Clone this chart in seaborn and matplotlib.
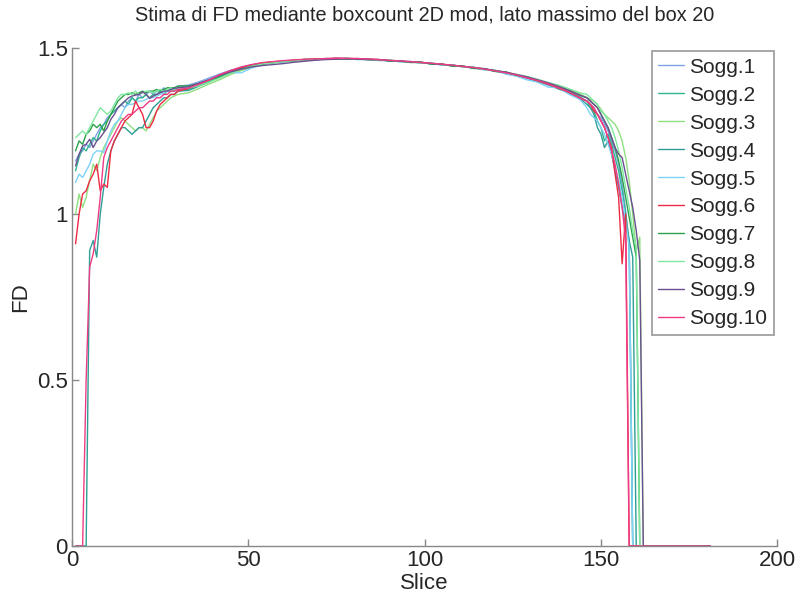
import pandas as pd
import matplotlib
matplotlib.use("Agg")
import matplotlib.pyplot as plt
import seaborn as sns

# slice positions (dense at the edges, every 3 slices in the flat middle)
slices = list(range(1, 31)) + list(range(33, 145, 3)) + list(range(146, 166)) + [181]

# FD per subject: slices 1-30, then 33..144 step 3, then 146..165, then 181
sogg1 = [1.16, 1.18, 1.19, 1.21, 1.20, 1.22, 1.24, 1.26, 1.27, 1.29, 1.30, 1.31, 1.32, 1.33, 1.32,
         1.34, 1.35, 1.34, 1.36, 1.35, 1.36, 1.37, 1.36, 1.37, 1.37, 1.38, 1.37, 1.38, 1.38, 1.385,
         1.388, 1.398, 1.410, 1.422, 1.433, 1.441, 1.450, 1.452, 1.458, 1.459, 1.463, 1.463, 1.466,
         1.466, 1.469, 1.467, 1.466, 1.467, 1.463, 1.462, 1.459, 1.459, 1.455, 1.453, 1.449, 1.448,
         1.443, 1.441, 1.435, 1.431, 1.424, 1.418, 1.408, 1.401, 1.388, 1.379, 1.365, 1.353,
         1.34, 1.33, 1.32, 1.30, 1.29, 1.27, 1.25, 1.22, 1.19, 1.15, 1.09, 1.01, 0.90, 0, 0, 0, 0, 0, 0, 0,
         0]
sogg2 = [1.13, 1.17, 1.20, 1.19, 1.21, 1.23, 1.22, 1.25, 1.27, 1.28, 1.30, 1.31, 1.32, 1.33, 1.34,
         1.33, 1.35, 1.34, 1.35, 1.35, 1.36, 1.35, 1.36, 1.36, 1.37, 1.36, 1.37, 1.37, 1.37, 1.375,
         1.376, 1.388, 1.400, 1.415, 1.428, 1.438, 1.447, 1.453, 1.456, 1.461, 1.461, 1.465, 1.465,
         1.468, 1.467, 1.469, 1.466, 1.465, 1.465, 1.461, 1.461, 1.457, 1.457, 1.452, 1.451, 1.446,
         1.445, 1.439, 1.437, 1.430, 1.427, 1.416, 1.411, 1.399, 1.391, 1.376, 1.368, 1.350,
         1.34, 1.32, 1.31, 1.28, 1.26, 1.22, 1.24, 1.21, 1.17, 1.13, 1.07, 1.00, 0.92, 0, 0, 0, 0, 0, 0, 0,
         0]
sogg3 = [1.00, 1.06, 1.02, 1.05, 1.10, 1.15, 1.13, 1.17, 1.20, 1.22, 1.24, 1.26, 1.28, 1.29, 1.28,
         1.27, 1.26, 1.25, 1.26, 1.26, 1.25, 1.27, 1.29, 1.31, 1.32, 1.33, 1.34, 1.35, 1.355, 1.36,
         1.365, 1.378, 1.392, 1.405, 1.420, 1.432, 1.442, 1.450, 1.455, 1.458, 1.462, 1.463, 1.466,
         1.466, 1.467, 1.468, 1.466, 1.466, 1.463, 1.463, 1.459, 1.458, 1.455, 1.454, 1.449, 1.448,
         1.443, 1.441, 1.436, 1.432, 1.427, 1.419, 1.412, 1.404, 1.393, 1.384, 1.374, 1.362,
         1.35, 1.345, 1.34, 1.33, 1.315, 1.30, 1.29, 1.28, 1.27, 1.25, 1.22, 1.17, 1.10, 1.00, 0.89, 0.93,
         0, 0, 0, 0,
         0]
sogg4 = [0, 0, 0, 0, 0.89, 0.92, 0.87, 1.00, 1.08, 1.15, 1.19, 1.22, 1.24, 1.26, 1.26,
         1.25, 1.24, 1.25, 1.26, 1.26, 1.28, 1.30, 1.32, 1.33, 1.34, 1.35, 1.35, 1.36, 1.36, 1.37,
         1.372, 1.385, 1.398, 1.414, 1.427, 1.437, 1.446, 1.452, 1.457, 1.459, 1.462, 1.464, 1.465,
         1.467, 1.468, 1.467, 1.467, 1.465, 1.464, 1.461, 1.460, 1.457, 1.456, 1.452, 1.450, 1.446,
         1.444, 1.439, 1.436, 1.430, 1.425, 1.417, 1.410, 1.400, 1.390, 1.377, 1.364, 1.348,
         1.33, 1.32, 1.30, 1.26, 1.24, 1.20, 1.22, 1.18, 1.13, 1.08, 1.02, 0.97, 0.92, 0.87, 0, 0, 0, 0, 0, 0,
         0]
sogg5 = [1.095, 1.12, 1.11, 1.13, 1.15, 1.18, 1.19, 1.19, 1.185, 1.22, 1.25, 1.27, 1.28, 1.30, 1.32,
         1.33, 1.33, 1.335, 1.34, 1.34, 1.345, 1.35, 1.35, 1.355, 1.36, 1.365, 1.37, 1.375, 1.375, 1.38,
         1.384, 1.395, 1.406, 1.416, 1.426, 1.425, 1.440, 1.449, 1.456, 1.458, 1.461, 1.465, 1.464,
         1.468, 1.466, 1.468, 1.465, 1.466, 1.462, 1.463, 1.458, 1.459, 1.454, 1.454, 1.448, 1.449,
         1.442, 1.442, 1.433, 1.432, 1.421, 1.415, 1.404, 1.397, 1.382, 1.380, 1.360, 1.345,
         1.32, 1.30, 1.29, 1.28, 1.26, 1.24, 1.21, 1.18, 1.14, 1.10, 1.05, 0.98, 0.90, 0, 0, 0, 0, 0, 0, 0,
         0]
sogg6 = [0.91, 1.00, 1.06, 1.07, 1.10, 1.12, 1.15, 1.07, 1.09, 1.08, 1.19, 1.22, 1.24, 1.26, 1.28,
         1.29, 1.30, 1.34, 1.32, 1.30, 1.26, 1.26, 1.28, 1.31, 1.33, 1.34, 1.35, 1.36, 1.36, 1.37,
         1.378, 1.392, 1.404, 1.419, 1.431, 1.441, 1.449, 1.455, 1.458, 1.461, 1.463, 1.465, 1.467,
         1.468, 1.469, 1.468, 1.468, 1.466, 1.465, 1.462, 1.461, 1.458, 1.457, 1.453, 1.451, 1.447,
         1.445, 1.440, 1.437, 1.431, 1.427, 1.418, 1.411, 1.401, 1.391, 1.379, 1.366, 1.350,
         1.34, 1.33, 1.31, 1.30, 1.28, 1.26, 1.23, 1.20, 1.12, 1.05, 0.85, 1.00, 0, 0, 0, 0, 0, 0, 0, 0,
         0]
sogg7 = [1.19, 1.22, 1.21, 1.24, 1.25, 1.27, 1.26, 1.27, 1.25, 1.28, 1.30, 1.32, 1.34, 1.35, 1.36,
         1.36, 1.365, 1.36, 1.365, 1.37, 1.365, 1.37, 1.37, 1.375, 1.37, 1.375, 1.38, 1.38, 1.38, 1.385,
         1.386, 1.393, 1.404, 1.414, 1.427, 1.436, 1.447, 1.451, 1.456, 1.460, 1.461, 1.466, 1.465,
         1.467, 1.468, 1.466, 1.468, 1.465, 1.465, 1.461, 1.461, 1.456, 1.457, 1.451, 1.451, 1.445,
         1.445, 1.438, 1.438, 1.429, 1.428, 1.418, 1.413, 1.402, 1.394, 1.382, 1.371, 1.357,
         1.35, 1.34, 1.33, 1.32, 1.30, 1.28, 1.26, 1.23, 1.20, 1.16, 1.11, 1.05, 0.99, 0.93, 0.87, 0,
         0, 0, 0, 0,
         0]
sogg8 = [1.23, 1.24, 1.25, 1.24, 1.26, 1.28, 1.30, 1.32, 1.31, 1.30, 1.31, 1.33, 1.35, 1.36, 1.36,
         1.365, 1.36, 1.37, 1.36, 1.365, 1.37, 1.37, 1.365, 1.37, 1.375, 1.37, 1.375, 1.38, 1.375, 1.38,
         1.380, 1.386, 1.398, 1.410, 1.424, 1.435, 1.445, 1.452, 1.455, 1.460, 1.461, 1.465, 1.464,
         1.468, 1.466, 1.469, 1.465, 1.467, 1.462, 1.464, 1.459, 1.459, 1.454, 1.455, 1.449, 1.449,
         1.442, 1.442, 1.435, 1.433, 1.426, 1.421, 1.414, 1.406, 1.396, 1.388, 1.377, 1.365,
         1.36, 1.35, 1.34, 1.33, 1.31, 1.30, 1.28, 1.26, 1.23, 1.19, 1.14, 1.08, 1.02, 0.95, 0.90, 0,
         0, 0, 0, 0,
         0]
sogg9 = [1.145, 1.18, 1.205, 1.21, 1.225, 1.20, 1.22, 1.23, 1.245, 1.26, 1.285, 1.30, 1.32, 1.33, 1.34,
         1.35, 1.355, 1.358, 1.36, 1.368, 1.36, 1.348, 1.355, 1.36, 1.365, 1.37, 1.37, 1.375, 1.378, 1.38,
         1.383, 1.394, 1.405, 1.418, 1.428, 1.436, 1.443, 1.447, 1.450, 1.453, 1.457, 1.460, 1.463,
         1.465, 1.466, 1.467, 1.466, 1.465, 1.464, 1.462, 1.460, 1.458, 1.456, 1.453, 1.450, 1.448,
         1.444, 1.441, 1.437, 1.432, 1.427, 1.420, 1.413, 1.404, 1.395, 1.384, 1.372, 1.358,
         1.35, 1.34, 1.33, 1.32, 1.30, 1.28, 1.26, 1.23, 1.20, 1.18, 1.17, 1.12, 1.07, 1.02, 0.95, 0.86,
         0, 0, 0, 0,
         0]
sogg10 = [0, 0, 0, 0.50, 0.84, 0.88, 0.95, 1.05, 1.17, 1.20, 1.22, 1.24, 1.26, 1.28, 1.29,
          1.30, 1.30, 1.31, 1.32, 1.32, 1.33, 1.34, 1.34, 1.35, 1.35, 1.36, 1.36, 1.37, 1.37, 1.375,
          1.379, 1.391, 1.404, 1.420, 1.432, 1.443, 1.450, 1.456, 1.459, 1.462, 1.464, 1.466, 1.467,
          1.468, 1.469, 1.469, 1.468, 1.467, 1.465, 1.463, 1.461, 1.459, 1.456, 1.454, 1.451, 1.448,
          1.444, 1.441, 1.436, 1.431, 1.425, 1.419, 1.410, 1.402, 1.392, 1.380, 1.367, 1.349,
          1.34, 1.33, 1.32, 1.30, 1.28, 1.26, 1.23, 1.19, 1.15, 1.09, 1.02, 0.92, 0, 0, 0, 0, 0, 0, 0, 0,
          0]

labels = ["Sogg.%d" % i for i in range(1, 11)]
series = [sogg1, sogg2, sogg3, sogg4, sogg5, sogg6, sogg7, sogg8, sogg9, sogg10]
colors = ["#7fa2e6", "#2fb58f", "#8fe07f", "#2e9e96", "#7dd3f7",
          "#ee2a44", "#2ca04a", "#7fe8a0", "#6b4f8f", "#ee3b86"]

rows = []
for lab, vals in zip(labels, series):
    for s, v in zip(slices, vals):
        rows.append((lab, s, v))
df = pd.DataFrame(rows, columns=["soggetto", "slice", "fd"])

sns.set_style("white")
plt.rcParams["font.family"] = ["Liberation Sans", "DejaVu Sans"]

fig = plt.figure(figsize=(7.96, 5.95), dpi=100)
ax = fig.add_axes([0.0905, 0.0824, 0.886, 0.837])

sns.lineplot(data=df, x="slice", y="fd", hue="soggetto", hue_order=labels,
             palette=dict(zip(labels, colors)), linewidth=1.0, ax=ax,
             estimator=None, sort=False)

ax.set_xlim(0, 200)
ax.set_ylim(0, 1.5)
ax.set_xticks([0, 50, 100, 150, 200])
ax.set_yticks([0, 0.5, 1, 1.5])
ax.set_yticklabels(["0", "0.5", "1", "1.5"])
ax.tick_params(direction="in", length=5, width=1, color="#888888", labelsize=16, pad=3,
               bottom=True, left=True)
for side in ["top", "right"]:
    ax.spines[side].set_visible(False)
for side in ["left", "bottom"]:
    ax.spines[side].set_color("#888888")
    ax.spines[side].set_linewidth(1)

ax.set_title("Stima di FD mediante boxcount 2D mod, lato massimo del box 20", fontsize=14.3, pad=20)
ax.set_xlabel("Slice", fontsize=16, labelpad=1)
ax.set_ylabel("FD", fontsize=16, labelpad=4)

leg = ax.legend(loc="upper right", bbox_to_anchor=(0.995, 0.993), borderaxespad=0,
                fontsize=15, fancybox=False, framealpha=1, edgecolor="#a0a0a0",
                handlelength=1.25, handletextpad=0.25, labelspacing=0.43, borderpad=0.3)
leg.get_frame().set_linewidth(1.3)

fig.savefig("out.png", dpi=100)
